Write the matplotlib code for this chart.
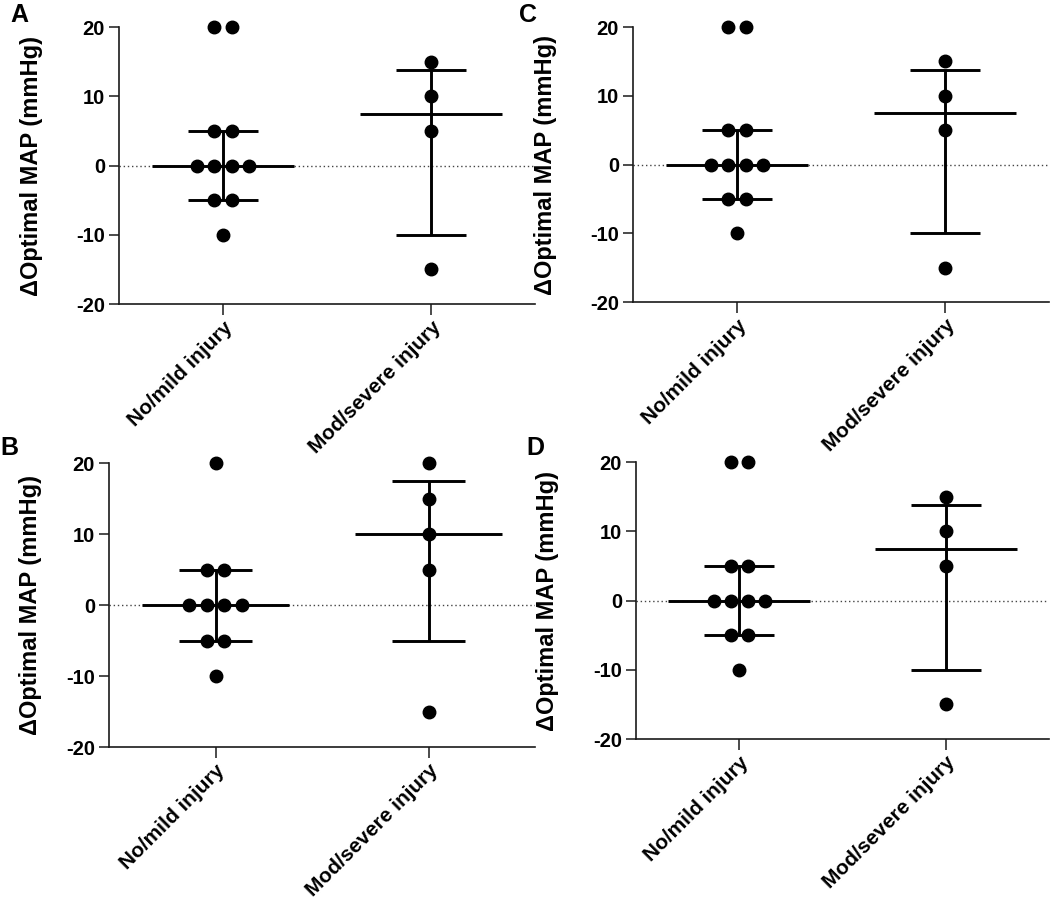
import numpy as np
import matplotlib
matplotlib.use("Agg")
import matplotlib.pyplot as plt

plt.rcParams['font.family'] = ['Liberation Sans', 'DejaVu Sans']
plt.rcParams['font.weight'] = 'bold'

# ---------------- data ----------------
groups = ["No/mild injury", "Mod/severe injury"]
panel_letters = ["A", "B", "C", "D"]

a_nomild = [20, 20, 5, 5, 0, 0, 0, 0, -5, -5, -10]
a_modsev = [15, 10, 5, -15]
b_nomild = [20, 5, 5, 0, 0, 0, 0, -5, -5, -10]
b_modsev = [20, 15, 10, 5, -15]
c_nomild = [20, 20, 5, 5, 0, 0, 0, 0, -5, -5, -10]
c_modsev = [15, 10, 5, -15]
d_nomild = [20, 20, 5, 5, 0, 0, 0, 0, -5, -5, -10]
d_modsev = [15, 10, 5, -15]

# median, lower quartile, upper quartile (as shown)
a_stats = [(0, -5, 5), (7.5, -10, 13.75)]
b_stats = [(0, -5, 5), (10, -5, 17.5)]
c_stats = [(0, -5, 5), (7.5, -10, 13.75)]
d_stats = [(0, -5, 5), (7.5, -10, 13.75)]

y_ticks = [-20, -10, 0, 10, 20]
y_label = "\u0394Optimal MAP (mmHg)"

panels = [
    ("A", [a_nomild, a_modsev], a_stats),
    ("B", [b_nomild, b_modsev], b_stats),
    ("C", [c_nomild, c_modsev], c_stats),
    ("D", [d_nomild, d_modsev], d_stats),
]

# ---------------- layout (pixels) ----------------
W, H = 1050, 905
boxes = {
    "A": (119, 535, 27, 304),
    "B": (109, 535, 463, 747),
    "C": (633, 1049, 27, 302),
    "D": (636, 1049, 462, 739),
}
ylabel_x = {"A": 43, "B": 42, "C": 557, "D": 559}
letter_pos = {"A": (10, 3), "B": (0, 436), "C": (519, 3), "D": (526, 436)}

fig = plt.figure(figsize=(W / 100, H / 100), dpi=100)

dot_spacing = 0.082
med_half = 0.343
cap_half = 0.17
lw = 2.1
col = "black"


def swarm_offsets(vals):
    vals = np.asarray(vals, dtype=float)
    offs = np.zeros(len(vals))
    for v in np.unique(vals):
        idx = np.where(vals == v)[0]
        n = len(idx)
        offs[idx] = (np.arange(n) - (n - 1) / 2) * dot_spacing
    return offs


for letter, series, stats in panels:
    l, r, t, b = boxes[letter]
    ax = fig.add_axes([l / W, 1 - b / H, (r - l) / W, (b - t) / H])
    ax.set_xlim(-0.5, 1.5)
    ax.set_ylim(-20, 20)
    ax.axhline(0, color="#444444", lw=1.0, ls=(0, (1, 2)), zorder=1)
    for i, (vals, (med, q1, q3)) in enumerate(zip(series, stats)):
        xs = i + swarm_offsets(vals)
        ax.plot(xs, vals, "o", color=col, ms=9, mec=col, zorder=3, clip_on=False)
        ax.plot([i - med_half, i + med_half], [med, med], color=col, lw=lw, zorder=2,
                solid_capstyle="butt")
        ax.plot([i - cap_half, i + cap_half], [q1, q1], color=col, lw=lw, zorder=2,
                solid_capstyle="butt")
        ax.plot([i - cap_half, i + cap_half], [q3, q3], color=col, lw=lw, zorder=2,
                solid_capstyle="butt")
        ax.plot([i, i], [q1, q3], color=col, lw=lw, zorder=2, solid_capstyle="butt")

    for s in ["top", "right"]:
        ax.spines[s].set_visible(False)
    for s in ["left", "bottom"]:
        ax.spines[s].set_linewidth(1.2)
        ax.spines[s].set_color("#1a1a1a")
    ax.set_yticks(y_ticks)
    ax.set_yticklabels([str(v) for v in y_ticks], fontsize=14.5, fontweight="bold")
    ax.set_xticks(range(len(groups)))
    ax.set_xticklabels(groups, fontsize=15, fontweight="bold", rotation=45,
                       ha="right", va="top", rotation_mode="anchor")
    ax.tick_params(axis="y", length=7, width=1.1, pad=3, color="#1a1a1a")
    ax.tick_params(axis="x", length=8, width=1.1, pad=2, color="#1a1a1a")
    ax.set_ylabel(y_label, fontsize=17, fontweight="bold")
    ax.yaxis.set_label_coords((ylabel_x[letter] - l) / (r - l), 0.5)

    lx, ly = letter_pos[letter]
    fig.text(lx / W, 1 - ly / H, letter, fontsize=18, fontweight="bold",
             ha="left", va="top")

fig.savefig("out.png", dpi=100)
